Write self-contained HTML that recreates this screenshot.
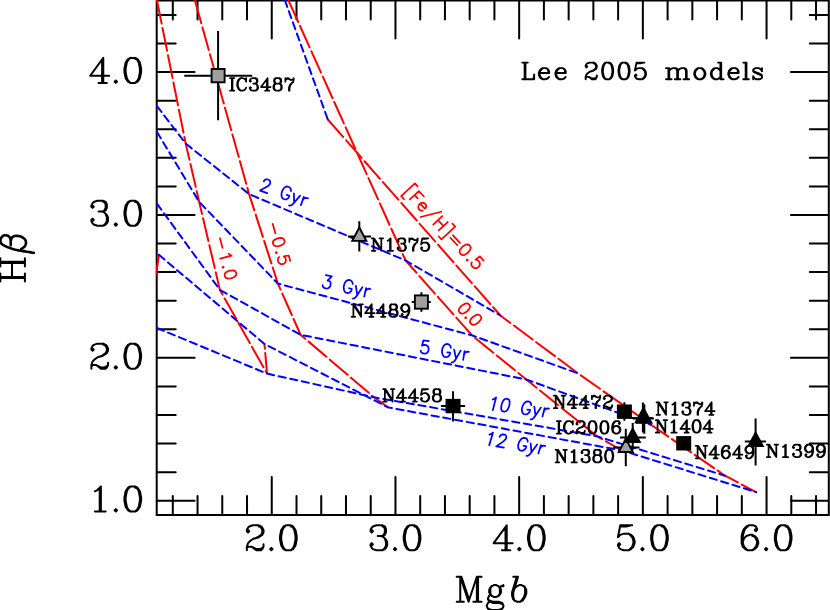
<!DOCTYPE html>
<html><head><meta charset="utf-8"><title>Lee 2005 models</title>
<style>html,body{margin:0;padding:0;background:#fff}svg{display:block}</style></head>
<body>
<svg width="830" height="610" viewBox="0 0 830 610">
<rect width="830" height="610" fill="#fff"/>
<defs><clipPath id="c"><rect x="155.7" y="0" width="674.1" height="515.9"/></clipPath></defs>
<g stroke="#000" stroke-width="2" fill="none" stroke-linecap="round">
<path d="M156.7 0.6H828.8V514.9H156.7ZM172.8 514.9v-19M172.8 0.6v19M197.54 514.9v-19M197.54 0.6v19M222.28 514.9v-19M222.28 0.6v19M247.02 514.9v-19M247.02 0.6v19M271.76 514.9v-37.9M271.76 0.6v37.9M296.5 514.9v-19M296.5 0.6v19M321.24 514.9v-19M321.24 0.6v19M345.98 514.9v-19M345.98 0.6v19M370.72 514.9v-19M370.72 0.6v19M395.46 514.9v-37.9M395.46 0.6v37.9M420.2 514.9v-19M420.2 0.6v19M444.94 514.9v-19M444.94 0.6v19M469.68 514.9v-19M469.68 0.6v19M494.42 514.9v-19M494.42 0.6v19M519.16 514.9v-37.9M519.16 0.6v37.9M543.9 514.9v-19M543.9 0.6v19M568.64 514.9v-19M568.64 0.6v19M593.38 514.9v-19M593.38 0.6v19M618.12 514.9v-19M618.12 0.6v19M642.86 514.9v-37.9M642.86 0.6v37.9M667.6 514.9v-19M667.6 0.6v19M692.34 514.9v-19M692.34 0.6v19M717.08 514.9v-19M717.08 0.6v19M741.82 514.9v-19M741.82 0.6v19M766.56 514.9v-37.9M766.56 0.6v37.9M791.3 514.9v-19M791.3 0.6v19M816.04 514.9v-19M816.04 0.6v19M156.7 500.7h37.9M828.8 500.7h-37.9M156.7 472.13h19M828.8 472.13h-19M156.7 443.55h19M828.8 443.55h-19M156.7 414.98h19M828.8 414.98h-19M156.7 386.4h19M828.8 386.4h-19M156.7 357.83h37.9M828.8 357.83h-37.9M156.7 329.26h19M828.8 329.26h-19M156.7 300.68h19M828.8 300.68h-19M156.7 272.11h19M828.8 272.11h-19M156.7 243.53h19M828.8 243.53h-19M156.7 214.96h37.9M828.8 214.96h-37.9M156.7 186.39h19M828.8 186.39h-19M156.7 157.81h19M828.8 157.81h-19M156.7 129.24h19M828.8 129.24h-19M156.7 100.66h19M828.8 100.66h-19M156.7 72.09h37.9M828.8 72.09h-37.9M156.7 43.52h19M828.8 43.52h-19M156.7 14.94h19M828.8 14.94h-19"/>
</g>
<g clip-path="url(#c)" fill="none" stroke-width="2" stroke-linecap="round">
<g stroke="#f00" stroke-dasharray="23.4 4.4">
<path d="M156.2 274L158.9 254.8"/>
<path d="M156.9 0L185.7 143.6L199.2 201.9L219.9 289.9L267 373.6L264.5 344" stroke-dashoffset="-0.7"/>
<path d="M194.8 0L249.1 194.1L277.9 283.6L300.6 334.8L374 397.3L388.1 407.4" stroke-dashoffset="-0.7"/>
<path d="M288.3 0L405.6 260.5L472 335.4L526.3 379.5L597 436.3L622 450.5" stroke-dashoffset="-0.7"/>
<path d="M327.8 119.5L500.4 315.5L577.9 373.3L651 424.7L725 475.7L756.1 492.1"/>
</g><g stroke="#00f" stroke-dasharray="7.3 4.6">
<path d="M284.8 0L327.8 119.5"/>
<path d="M157 106.1L185.7 143.6L249.1 194.1L405.6 260.5L500.4 315.5"/>
<path d="M157 132L199.2 201.9L277.9 283.6L472 335.4L577.9 373.3"/>
<path d="M157 203.7L219.9 289.9L300.6 334.8L526.3 379.5L651 424.7"/>
<path d="M157 328L267 373.6L374 397.3L597 436.3L725 475.7"/>
<path d="M158.9 254.8L264.5 344L388.1 407.4L622 450.5L756.1 492.1"/>
</g></g>
<g stroke="#000" stroke-width="1.9" stroke-linejoin="miter">
<path d="M184.3 75.65H252.2M218.1 31V120.2" fill="none" stroke-width="2"/>
<rect x="211.6" y="69" width="13" height="13.3" fill="#a0a0a0"/>
<path d="M347.9 236.4H371.1M359.3 221.2V251.4" fill="none" stroke-width="2"/>
<path d="M359.3 227.47L366.35 240.87L352.25 240.87Z" fill="#a0a0a0"/>
<path d="M411.8 302.05H430.8M421.4 292.3V311.8" fill="none" stroke-width="2"/>
<rect x="414.9" y="295.4" width="13" height="13.3" fill="#a0a0a0"/>
<path d="M440.9 406.05H465.1M453.05 391.2V421.4" fill="none" stroke-width="2"/>
<rect x="446.5" y="399.8" width="13.1" height="12.5" fill="#000"/>
<path d="M618 411.7H631M624.4 402.3V420.7" fill="none" stroke-width="2"/>
<rect x="617.85" y="405.45" width="13.1" height="12.5" fill="#000"/>
<path d="M613.2 447.6H639.5M625.8 428.7V466.2" fill="none" stroke-width="2"/>
<path d="M625.8 438.67L632.85 452.07L618.75 452.07Z" fill="#a0a0a0"/>
<path d="M620 437.6H645.8M632.7 423V450" fill="none" stroke-width="2"/>
<path d="M632.7 428.8L639.85 442L625.55 442Z" fill="#000"/>
<path d="M632.1 417.9H653M642.9 402.6V432.5" fill="none" stroke-width="2"/>
<path d="M642.9 409.1L650.05 422.3L635.75 422.3Z" fill="#000"/>
<path d="M633 418.4H653.9M644.3 404.2V433.8" fill="none" stroke-width="2"/>
<path d="M644.3 409.6L651.45 422.8L637.15 422.8Z" fill="#000"/>
<path d="M679 443.3H689M683.7 439V448" fill="none" stroke-width="2"/>
<rect x="677.15" y="437.05" width="13.1" height="12.5" fill="#000"/>
<path d="M744.8 441.6H765.9M755.6 418.4V465.6" fill="none" stroke-width="2"/>
<path d="M755.6 432.8L762.75 446L748.45 446Z" fill="#000"/>
</g>
<g fill="none" stroke-linecap="round" stroke-linejoin="round">
<path d="M100.9 511.5l0-24.99l-1.19 1.19M100.9 511.5l-1.19 0M100.9 511.5l4.76 0M94.95 491.27l2.38-1.19l2.38-2.38M99.71 511.5l0-23.8M99.71 511.5l-4.76 0M115.8 509.12l-1.19 1.19l1.19 1.19l1.19-1.19l-1.19-1.19M135.15 486.51l0 1.19M130.39 511.5l-2.38-1.19l-2.38-3.57l-1.19-5.95l0-3.57l1.19-5.95l2.38-3.57l2.38-1.19M135.15 511.5l2.38-1.19l2.38-3.57l1.19-5.95l0-3.57l-1.19-5.95l-2.38-3.57l-2.38-1.19M130.39 511.5l-1.19-1.19l-1.19-1.19l-1.19-2.38l-1.19-5.95l0-3.57l1.19-5.95l1.19-2.38l1.19-1.19l1.19-1.19M135.15 486.51l0 1.19M130.39 511.5l1.19 0l2.38 0l1.19 0M130.39 486.51l1.19 0l2.38 0l1.19 0M135.15 511.5l1.19-1.19l1.19-1.19l1.19-2.38l1.19-5.95l0-3.57l-1.19-5.95l-1.19-2.38l-1.19-1.19l-1.19 0" stroke="#000" stroke-width="2"/>
<path d="M96.14 365.06l4.76 2.38l3.57 0l2.38-1.19l1.19-1.19M108.04 365.06l-1.19 2.38l-1.19 1.19l-4.76 0l-4.76-3.57M96.14 365.06l-1.19 0M99.71 356.73l3.57-1.19l3.57-2.38l1.19-2.38l0-2.38l-1.19-2.38l-1.19-1.19l-2.38-1.19M92.57 348.4l1.19 1.19l-1.19 1.19l-1.19-1.19l0-1.19l1.19-2.38l1.19-1.19l3.57-1.19l4.76 0l1.19 0M99.71 356.73l2.38-1.19l3.57-2.38l1.19-2.38l0-2.38l-1.19-2.38l-1.19-1.19l-1.19 0M108.04 365.06l0-2.38M94.95 365.06l-2.38 0l-1.19 1.19M94.95 365.06l1.19 0M103.28 344.83l0-1.19M103.28 344.83l0-1.19M91.38 366.25l0-1.19l1.19-3.57l2.38-2.38l3.57-2.38M91.38 366.25l0 2.38M98.52 356.73l1.19 0M98.52 356.73l1.19 0M115.8 366.25l-1.19 1.19l1.19 1.19l1.19-1.19l-1.19-1.19M135.15 343.64l0 1.19M130.39 368.63l-2.38-1.19l-2.38-3.57l-1.19-5.95l0-3.57l1.19-5.95l2.38-3.57l2.38-1.19M135.15 368.63l2.38-1.19l2.38-3.57l1.19-5.95l0-3.57l-1.19-5.95l-2.38-3.57l-2.38-1.19M130.39 368.63l-1.19-1.19l-1.19-1.19l-1.19-2.38l-1.19-5.95l0-3.57l1.19-5.95l1.19-2.38l1.19-1.19l1.19-1.19M135.15 343.64l0 1.19M130.39 368.63l1.19 0l2.38 0l1.19 0M130.39 343.64l1.19 0l2.38 0l1.19 0M135.15 368.63l1.19-1.19l1.19-1.19l1.19-2.38l1.19-5.95l0-3.57l-1.19-5.95l-1.19-2.38l-1.19-1.19l-1.19 0" stroke="#000" stroke-width="2"/>
<path d="M98.52 211.48l3.57 0M92.57 205.53l1.19 1.19l-1.19 1.19l-1.19-1.19l0-1.19l1.19-2.38l1.19-1.19l3.57-1.19l4.76 0l1.19 0M92.57 221l1.19-1.19l-1.19-1.19l-1.19 1.19l0 1.19l1.19 2.38l1.19 1.19l3.57 1.19l4.76 0l1.19 0M103.28 225.76l1.19-1.19l1.19-1.19l1.19-2.38l0-3.57l-1.19-3.57M103.28 201.96l0-1.19M103.28 201.96l0-1.19M103.28 201.96l1.19 0l1.19 2.38l0 3.57l-1.19 2.38l-1.19 1.19M105.66 213.86l-1.19-1.19l-2.38-1.19M105.66 213.86l1.19 1.19l1.19 2.38l0 3.57l-1.19 2.38l-1.19 1.19l-2.38 1.19M102.09 211.48l1.19 0M103.28 211.48l2.38-1.19l1.19-2.38l0-3.57l-1.19-2.38l-2.38-1.19M115.8 223.38l-1.19 1.19l1.19 1.19l1.19-1.19l-1.19-1.19M135.15 200.77l0 1.19M130.39 225.76l-2.38-1.19l-2.38-3.57l-1.19-5.95l0-3.57l1.19-5.95l2.38-3.57l2.38-1.19M135.15 225.76l2.38-1.19l2.38-3.57l1.19-5.95l0-3.57l-1.19-5.95l-2.38-3.57l-2.38-1.19M130.39 225.76l-1.19-1.19l-1.19-1.19l-1.19-2.38l-1.19-5.95l0-3.57l1.19-5.95l1.19-2.38l1.19-1.19l1.19-1.19M135.15 200.77l0 1.19M130.39 225.76l1.19 0l2.38 0l1.19 0M130.39 200.77l1.19 0l2.38 0l1.19 0M135.15 225.76l1.19-1.19l1.19-1.19l1.19-2.38l1.19-5.95l0-3.57l-1.19-5.95l-1.19-2.38l-1.19-1.19l-1.19 0" stroke="#000" stroke-width="2"/>
<path d="M102.09 75.75l0-15.47M102.09 75.75l-11.9 0l13.09-17.85l0 17.85M102.09 75.75l1.19 0M102.09 75.75l0 7.14M98.52 82.89l3.57 0M106.85 82.89l-3.57 0M103.28 75.75l5.95 0M103.28 75.75l0 7.14M102.09 82.89l1.19 0M115.8 80.51l-1.19 1.19l1.19 1.19l1.19-1.19l-1.19-1.19M135.15 57.9l0 1.19M130.39 82.89l-2.38-1.19l-2.38-3.57l-1.19-5.95l0-3.57l1.19-5.95l2.38-3.57l2.38-1.19M135.15 82.89l2.38-1.19l2.38-3.57l1.19-5.95l0-3.57l-1.19-5.95l-2.38-3.57l-2.38-1.19M130.39 82.89l-1.19-1.19l-1.19-1.19l-1.19-2.38l-1.19-5.95l0-3.57l1.19-5.95l1.19-2.38l1.19-1.19l1.19-1.19M135.15 57.9l0 1.19M130.39 82.89l1.19 0l2.38 0l1.19 0M130.39 57.9l1.19 0l2.38 0l1.19 0M135.15 82.89l1.19-1.19l1.19-1.19l1.19-2.38l1.19-5.95l0-3.57l-1.19-5.95l-1.19-2.38l-1.19-1.19l-1.19 0" stroke="#000" stroke-width="2"/>
<path d="M251.59 546.73l4.76 2.38l3.57 0l2.38-1.19l1.19-1.19M263.49 546.73l-1.19 2.38l-1.19 1.19l-4.76 0l-4.76-3.57M251.59 546.73l-1.19 0M255.16 538.4l3.57-1.19l3.57-2.38l1.19-2.38l0-2.38l-1.19-2.38l-1.19-1.19l-2.38-1.19M248.02 530.07l1.19 1.19l-1.19 1.19l-1.19-1.19l0-1.19l1.19-2.38l1.19-1.19l3.57-1.19l4.76 0l1.19 0M255.16 538.4l2.38-1.19l3.57-2.38l1.19-2.38l0-2.38l-1.19-2.38l-1.19-1.19l-1.19 0M263.49 546.73l0-2.38M250.4 546.73l-2.38 0l-1.19 1.19M250.4 546.73l1.19 0M258.73 526.5l0-1.19M258.73 526.5l0-1.19M246.83 547.92l0-1.19l1.19-3.57l2.38-2.38l3.57-2.38M246.83 547.92l0 2.38M253.97 538.4l1.19 0M253.97 538.4l1.19 0M271.34 547.92l-1.19 1.19l1.19 1.19l1.19-1.19l-1.19-1.19M290.74 525.31l0 1.19M285.98 550.3l-2.38-1.19l-2.38-3.57l-1.19-5.95l0-3.57l1.19-5.95l2.38-3.57l2.38-1.19M290.74 550.3l2.38-1.19l2.38-3.57l1.19-5.95l0-3.57l-1.19-5.95l-2.38-3.57l-2.38-1.19M285.98 550.3l-1.19-1.19l-1.19-1.19l-1.19-2.38l-1.19-5.95l0-3.57l1.19-5.95l1.19-2.38l1.19-1.19l1.19-1.19M290.74 525.31l0 1.19M285.98 550.3l1.19 0l2.38 0l1.19 0M285.98 525.31l1.19 0l2.38 0l1.19 0M290.74 550.3l1.19-1.19l1.19-1.19l1.19-2.38l1.19-5.95l0-3.57l-1.19-5.95l-1.19-2.38l-1.19-1.19l-1.19 0" stroke="#000" stroke-width="2"/>
<path d="M377.67 536.02l3.57 0M371.72 530.07l1.19 1.19l-1.19 1.19l-1.19-1.19l0-1.19l1.19-2.38l1.19-1.19l3.57-1.19l4.76 0l1.19 0M371.72 545.54l1.19-1.19l-1.19-1.19l-1.19 1.19l0 1.19l1.19 2.38l1.19 1.19l3.57 1.19l4.76 0l1.19 0M382.43 550.3l1.19-1.19l1.19-1.19l1.19-2.38l0-3.57l-1.19-3.57M382.43 526.5l0-1.19M382.43 526.5l0-1.19M382.43 526.5l1.19 0l1.19 2.38l0 3.57l-1.19 2.38l-1.19 1.19M384.81 538.4l-1.19-1.19l-2.38-1.19M384.81 538.4l1.19 1.19l1.19 2.38l0 3.57l-1.19 2.38l-1.19 1.19l-2.38 1.19M381.24 536.02l1.19 0M382.43 536.02l2.38-1.19l1.19-2.38l0-3.57l-1.19-2.38l-2.38-1.19M395.04 547.92l-1.19 1.19l1.19 1.19l1.19-1.19l-1.19-1.19M414.44 525.31l0 1.19M409.68 550.3l-2.38-1.19l-2.38-3.57l-1.19-5.95l0-3.57l1.19-5.95l2.38-3.57l2.38-1.19M414.44 550.3l2.38-1.19l2.38-3.57l1.19-5.95l0-3.57l-1.19-5.95l-2.38-3.57l-2.38-1.19M409.68 550.3l-1.19-1.19l-1.19-1.19l-1.19-2.38l-1.19-5.95l0-3.57l1.19-5.95l1.19-2.38l1.19-1.19l1.19-1.19M414.44 525.31l0 1.19M409.68 550.3l1.19 0l2.38 0l1.19 0M409.68 525.31l1.19 0l2.38 0l1.19 0M414.44 550.3l1.19-1.19l1.19-1.19l1.19-2.38l1.19-5.95l0-3.57l-1.19-5.95l-1.19-2.38l-1.19-1.19l-1.19 0" stroke="#000" stroke-width="2"/>
<path d="M505.53 543.16l0-15.47M505.53 543.16l-11.9 0l13.09-17.85l0 17.85M505.53 543.16l1.19 0M505.53 543.16l0 7.14M501.96 550.3l3.57 0M510.29 550.3l-3.57 0M506.72 543.16l5.95 0M506.72 543.16l0 7.14M505.53 550.3l1.19 0M519.34 547.92l-1.19 1.19l1.19 1.19l1.19-1.19l-1.19-1.19M538.74 525.31l0 1.19M533.98 550.3l-2.38-1.19l-2.38-3.57l-1.19-5.95l0-3.57l1.19-5.95l2.38-3.57l2.38-1.19M538.74 550.3l2.38-1.19l2.38-3.57l1.19-5.95l0-3.57l-1.19-5.95l-2.38-3.57l-2.38-1.19M533.98 550.3l-1.19-1.19l-1.19-1.19l-1.19-2.38l-1.19-5.95l0-3.57l1.19-5.95l1.19-2.38l1.19-1.19l1.19-1.19M538.74 525.31l0 1.19M533.98 550.3l1.19 0l2.38 0l1.19 0M533.98 525.31l1.19 0l2.38 0l1.19 0M538.74 550.3l1.19-1.19l1.19-1.19l1.19-2.38l1.19-5.95l0-3.57l-1.19-5.95l-1.19-2.38l-1.19-1.19l-1.19 0" stroke="#000" stroke-width="2"/>
<path d="M632.21 525.31l-1.19 0M628.64 550.3l2.38-1.19l2.38-2.38l1.19-3.57l0-2.38l-1.19-3.57l-2.38-2.38l-2.38-1.19M619.12 545.54l1.19-1.19l-1.19-1.19l-1.19 1.19l0 1.19l1.19 2.38l1.19 1.19l3.57 1.19l3.57 0l1.19 0M620.31 526.5l5.95 0l4.76-1.19M631.02 525.31l-10.71 0l-2.38 11.9l2.38-2.38l3.57-1.19l3.57 0l1.19 0M628.64 533.64l1.19 1.19l2.38 2.38l1.19 3.57l0 2.38l-1.19 3.57l-2.38 2.38l-1.19 1.19M642.44 547.92l-1.19 1.19l1.19 1.19l1.19-1.19l-1.19-1.19M661.84 525.31l0 1.19M657.08 550.3l-2.38-1.19l-2.38-3.57l-1.19-5.95l0-3.57l1.19-5.95l2.38-3.57l2.38-1.19M661.84 550.3l2.38-1.19l2.38-3.57l1.19-5.95l0-3.57l-1.19-5.95l-2.38-3.57l-2.38-1.19M657.08 550.3l-1.19-1.19l-1.19-1.19l-1.19-2.38l-1.19-5.95l0-3.57l1.19-5.95l1.19-2.38l1.19-1.19l1.19-1.19M661.84 525.31l0 1.19M657.08 550.3l1.19 0l2.38 0l1.19 0M657.08 525.31l1.19 0l2.38 0l1.19 0M661.84 550.3l1.19-1.19l1.19-1.19l1.19-2.38l1.19-5.95l0-3.57l-1.19-5.95l-1.19-2.38l-1.19-1.19l-1.19 0" stroke="#000" stroke-width="2"/>
<path d="M749.96 525.31l-1.19 0M749.96 525.31l3.57 0l2.38 1.19l1.19 2.38l0 1.19l-1.19 1.19l-1.19-1.19l1.19-1.19M749.96 525.31l-1.19 0M747.58 550.3l-2.38-1.19l-2.38-2.38l-1.19-3.57l0-7.14l1.19-4.76l1.19-2.38l2.38-2.38l2.38-1.19M748.77 525.31l-1.19 1.19l-2.38 2.38l-1.19 2.38l-1.19 4.76l0 5.95M752.34 550.3l2.38-1.19l2.38-2.38l1.19-3.57l0-1.19l-1.19-3.57l-2.38-2.38l-2.38-1.19M752.34 536.02l0-1.19M752.34 536.02l0-1.19M752.34 536.02l1.19 0l2.38 2.38l1.19 3.57l0 1.19l-1.19 3.57l-2.38 2.38l-1.19 1.19M747.58 550.3l1.19 0l2.38 0l1.19 0M742.82 541.97l1.19-3.57l2.38-2.38l3.57-1.19l1.19 0l1.19 0M742.82 541.97l0 1.19l1.19 3.57l2.38 2.38l1.19 1.19M766.14 547.92l-1.19 1.19l1.19 1.19l1.19-1.19l-1.19-1.19M785.54 525.31l0 1.19M780.78 550.3l-2.38-1.19l-2.38-3.57l-1.19-5.95l0-3.57l1.19-5.95l2.38-3.57l2.38-1.19M785.54 550.3l2.38-1.19l2.38-3.57l1.19-5.95l0-3.57l-1.19-5.95l-2.38-3.57l-2.38-1.19M780.78 550.3l-1.19-1.19l-1.19-1.19l-1.19-2.38l-1.19-5.95l0-3.57l1.19-5.95l1.19-2.38l1.19-1.19l1.19-1.19M785.54 525.31l0 1.19M780.78 550.3l1.19 0l2.38 0l1.19 0M780.78 525.31l1.19 0l2.38 0l1.19 0M785.54 550.3l1.19-1.19l1.19-1.19l1.19-2.38l1.19-5.95l0-3.57l-1.19-5.95l-1.19-2.38l-1.19-1.19l-1.19 0" stroke="#000" stroke-width="2"/>
<path d="M524.63 62.6l-2.38 0M524.63 62.6l0.8 0M524.63 62.6l0 16.7M534.17 74.53l0 0.8M533.38 79.3l0.79-3.97M533.38 79.3l-7.95 0M533.38 79.3l0.79 0l0-3.97M522.25 79.3l2.38 0M524.63 79.3l0.8 0M525.43 62.6l2.39 0M525.43 62.6l0 16.7M542.77 79.3l-1.59-0.8l-1.59-1.59l-0.8-2.38l0-1.59l0.8-2.39l1.59-1.58l1.59-0.8M542.77 79.3l-0.8-0.8l-1.59-1.59l-0.79-2.38l0-1.59M547.54 68.97l0.79 0.79l0.8 1.59l0 1.59l-0.8 0M542.77 79.3l0.79 0l1.59 0l2.39-0.8l1.59-1.59M548.33 72.94l0-2.39l-0.79-1.58M548.33 72.94l-8.74 0M542.77 68.17l0.79 0l2.39 0l1.59 0.8M542.77 68.17l-0.8 0.8l-1.59 1.58l-0.79 2.39M559.39 79.3l-1.59-0.8l-1.59-1.59l-0.8-2.38l0-1.59l0.8-2.39l1.59-1.58l1.59-0.8M559.39 79.3l-0.79-0.8l-1.6-1.59l-0.79-2.38l0-1.59M564.16 68.97l0.8 0.79l0.79 1.59l0 1.59l-0.79 0M559.39 79.3l0.79 0l1.59 0l2.39-0.8l1.59-1.59M564.96 72.94l0-2.39l-0.8-1.58M564.96 72.94l-8.75 0M559.39 68.17l0.79 0l2.39 0l1.59 0.8M559.39 68.17l-0.79 0.8l-1.6 1.58l-0.79 2.39" stroke="#000" stroke-width="1.9"/>
<path d="M588.83 76.91l3.18 1.59l2.39 0l1.59-0.79l0.79-0.8M596.78 76.91l-0.79 1.59l-0.8 0.8l-3.18 0l-3.18-2.39M588.83 76.91l-0.79 0M591.22 71.35l2.38-0.8l2.39-1.58l0.79-1.59l0-1.6l-0.79-1.59l-0.8-0.79l-1.59-0.8M586.45 65.78l0.79 0.8l-0.79 0.8l-0.8-0.8l0-0.8l0.8-1.59l0.79-0.79l2.39-0.8l3.18 0l0.79 0M591.22 71.35l1.59-0.8l2.38-1.58l0.8-1.59l0-1.6l-0.8-1.59l-0.79-0.79l-0.8 0M596.78 76.91l0-1.58M588.04 76.91l-1.59 0l-0.8 0.8M588.04 76.91l0.79 0M593.6 63.4l0-0.8M593.6 63.4l0-0.8M585.65 77.71l0-0.8l0.8-2.38l1.59-1.59l2.38-1.59M585.65 77.71l0 1.59M590.42 71.35l0.8 0M590.42 71.35l0.8 0M609.23 62.6l0 0.8M606.05 79.3l-1.59-0.8l-1.59-2.38l-0.8-3.98l0-2.38l0.8-3.98l1.59-2.38l1.59-0.8M609.23 79.3l1.59-0.8l1.59-2.38l0.79-3.98l0-2.38l-0.79-3.98l-1.59-2.38l-1.59-0.8M606.05 79.3l-0.8-0.8l-0.79-0.79l-0.8-1.59l-0.79-3.98l0-2.38l0.79-3.98l0.8-1.59l0.79-0.79l0.8-0.8M609.23 62.6l0 0.8M606.05 79.3l0.79 0l1.59 0l0.8 0M606.05 62.6l0.79 0l1.59 0l0.8 0M609.23 79.3l0.79-0.8l0.8-0.79l0.79-1.59l0.8-3.98l0-2.38l-0.8-3.98l-0.79-1.59l-0.8-0.79l-0.79 0M625.65 62.6l0 0.8M622.47 79.3l-1.59-0.8l-1.59-2.38l-0.79-3.98l0-2.38l0.79-3.98l1.59-2.38l1.59-0.8M625.65 79.3l1.59-0.8l1.59-2.38l0.8-3.98l0-2.38l-0.8-3.98l-1.59-2.38l-1.59-0.8M622.47 79.3l-0.79-0.8l-0.8-0.79l-0.79-1.59l-0.8-3.98l0-2.38l0.8-3.98l0.79-1.59l0.8-0.79l0.79-0.8M625.65 62.6l0 0.8M622.47 79.3l0.8 0l1.59 0l0.79 0M622.47 62.6l0.8 0l1.59 0l0.79 0M625.65 79.3l0.8-0.8l0.79-0.79l0.8-1.59l0.79-3.98l0-2.38l-0.79-3.98l-0.8-1.59l-0.79-0.79l-0.8 0M644.46 62.6l-0.8 0M642.07 79.3l1.59-0.8l1.59-1.59l0.8-2.38l0-1.59l-0.8-2.39l-1.59-1.58l-1.59-0.8M635.71 76.12l0.8-0.79l-0.8-0.8l-0.79 0.8l0 0.79l0.79 1.59l0.8 0.79l2.38 0.8l2.39 0l0.79 0M636.51 63.4l3.97 0l3.18-0.8M643.66 62.6l-7.15 0l-1.59 7.95l1.59-1.58l2.38-0.8l2.39 0l0.79 0M642.07 68.17l0.8 0.8l1.59 1.58l0.79 2.39l0 1.59l-0.79 2.38l-1.59 1.59l-0.8 0.8" stroke="#000" stroke-width="1.9"/>
<path d="M684.34 68.17l-0.8 0l-1.59 0l-2.38 0.8l-1.59 1.58M666.05 79.3l2.39 0M668.44 79.3l0-11.13M668.44 79.3l0.79 0M666.05 68.17l2.39 0M685.93 79.3l0-8.75l-0.8-1.58l-0.79-0.8M685.93 79.3l-2.39 0M685.93 79.3l0.79 0M684.34 68.17l1.59 0.8l0.79 1.58l0 8.75M669.23 79.3l0-8.75M669.23 79.3l2.39 0M686.72 79.3l2.39 0M677.18 79.3l0-8.75l-0.79-1.58l-0.8-0.8M677.18 79.3l-2.38 0M677.18 79.3l0.8 0M677.98 79.3l0-8.75M677.98 79.3l2.38 0M668.44 68.17l0.79 0l0 2.38M677.98 70.55l-0.8-1.58l-1.59-0.8M669.23 70.55l1.59-1.58l2.39-0.8l1.59 0l0.79 0M698.22 79.3l-1.59-0.8l-1.59-1.59l-0.79-2.38l0-1.59l0.79-2.39l1.59-1.58l1.59-0.8M701.4 79.3l1.59-0.8l1.59-1.59l0.8-2.38l0-1.59l-0.8-2.39l-1.59-1.58l-1.59-0.8M701.4 68.17l-0.79 0l-1.59 0l-0.8 0M698.22 79.3l-0.79-0.8l-1.59-1.59l-0.8-2.38l0-1.59l0.8-2.39l1.59-1.58l0.79-0.8M698.22 79.3l0.8 0l1.59 0l0.79 0M701.4 68.17l0.8 0.8l1.59 1.58l0.79 2.39l0 1.59l-0.79 2.38l-1.59 1.59l-0.8 0.8M718.01 62.6l2.39 0M720.4 62.6l0.79 0l0 16.7M720.4 62.6l0 7.95M714.83 79.3l-1.59-0.8l-1.59-1.59l-0.79-2.38l0-1.59l0.79-2.39l1.59-1.58l1.59-0.8M721.19 79.3l-0.79 0l0-2.39M721.19 79.3l2.39 0M714.83 79.3l-0.79-0.8l-1.59-1.59l-0.8-2.38l0-1.59l0.8-2.39l1.59-1.58l0.79-0.8M714.83 79.3l0.8 0l1.59 0l1.59-0.8l1.59-1.59M714.83 68.17l0.8 0l1.59 0l1.59 0.8l1.59 1.58M720.4 70.55l0 6.36M732.27 79.3l-1.59-0.8l-1.59-1.59l-0.8-2.38l0-1.59l0.8-2.39l1.59-1.58l1.59-0.8M732.27 79.3l-0.8-0.8l-1.59-1.59l-0.79-2.38l0-1.59M737.04 68.97l0.79 0.79l0.8 1.59l0 1.59l-0.8 0M732.27 79.3l0.79 0l1.59 0l2.39-0.8l1.59-1.59M737.83 72.94l0-2.39l-0.79-1.58M737.83 72.94l-8.74 0M732.27 68.17l0.79 0l2.39 0l1.59 0.8M732.27 68.17l-0.8 0.8l-1.59 1.58l-0.79 2.39M745.66 62.6l-2.38 0M745.66 62.6l0.8 0l0 16.7M745.66 62.6l0 16.7M748.84 79.3l-2.38 0M743.28 79.3l2.38 0M745.66 79.3l0.8 0M761.95 76.12l0-0.79l-0.8-0.8l-1.59-0.8l-3.97-1.59l-1.59-0.79l-0.8-0.8M761.95 76.12l-0.8-0.79l-1.59-0.8l-3.97-1.59l-1.59-0.8l-0.8-0.79l0-0.8M761.95 76.12l0 1.59l-0.8 0.79l-1.59 0.8l-3.18 0l-1.59-0.8l-0.79-0.79M754 77.71l-0.8-1.59l0 3.18l0.8-1.59M753.2 70.55l0-0.79l0.8-0.79l1.59-0.8l3.18 0l1.59 0.8l0.79 0.79M761.15 69.76l0.8-1.59l0 3.18l-0.8-1.59" stroke="#000" stroke-width="1.9"/>
<path d="M231.88 78.15l-1.78 0M231.88 78.15l0.6 0M231.88 78.15l0 12.5M234.26 90.65l-1.78 0M230.1 90.65l1.78 0M231.88 90.65l0.6 0M232.48 78.15l1.78 0M232.48 78.15l0 12.5M241.4 78.15l-0.6 0M241.4 78.15l1.19 0l1.78 0.6l1.19 1.19M241.4 78.15l-0.6 0M240.8 90.65l0.6 0M240.8 78.15l-0.59 0.6l-1.19 1.19l-0.6 1.19l-0.59 1.78l0 2.98l0.59 1.78l0.6 1.19l1.19 1.19l0.59 0.6M245.56 79.94l0.6-1.79l0 3.57l-0.6-1.78M240.8 90.65l-1.19-0.6l-1.19-1.19l-0.59-1.19l-0.6-1.78l0-2.98l0.6-1.78l0.59-1.19l1.19-1.19l1.19-0.6M240.8 90.65l0.6 0M246.16 87.67l-0.6 1.19l-1.19 1.19l-1.78 0.6l-1.19 0M253.28 83.51l1.79 0M250.31 80.53l0.59 0.6l-0.59 0.59l-0.6-0.59l0-0.6l0.6-1.19l0.59-0.59l1.79-0.6l2.38 0l0.59 0M250.31 88.27l0.59-0.6l-0.59-0.59l-0.6 0.59l0 0.6l0.6 1.19l0.59 0.59l1.79 0.6l2.38 0l0.59 0M255.66 90.65l0.6-0.6l0.59-0.59l0.6-1.19l0-1.79l-0.6-1.78M255.66 78.75l0-0.6M255.66 78.75l0-0.6M255.66 78.75l0.6 0l0.59 1.19l0 1.78l-0.59 1.19l-0.6 0.6M256.85 84.7l-0.59-0.6l-1.19-0.59M256.85 84.7l0.6 0.59l0.59 1.19l0 1.79l-0.59 1.19l-0.6 0.59l-1.19 0.6M255.07 83.51l0.59 0M255.66 83.51l1.19-0.6l0.6-1.19l0-1.78l-0.6-1.19l-1.19-0.6M266.95 87.08l0-7.74M266.95 87.08l-5.95 0l6.55-8.93l0 8.93M266.95 87.08l0.6 0M266.95 87.08l0 3.57M265.17 90.65l1.78 0M269.33 90.65l-1.78 0M267.55 87.08l2.97 0M267.55 87.08l0 3.57M266.95 90.65l0.6 0M275.86 83.51l0.6 0M279.43 78.75l0-0.6M279.43 78.75l0-0.6M279.43 78.75l0.6 0l0.59 1.19l0 1.78l-0.59 1.19l-0.6 0.6M279.43 83.51l1.19-0.6l0.6-1.19l0-1.78l-0.6-1.19l-1.19-0.6M275.86 83.51l-0.59 0.59l-0.6 0.6l-0.59 1.19l0 2.38l0.59 1.19l0.6 0.59l0.59 0.6M275.86 78.15l0.6 0M276.46 83.51l2.38 0M276.46 78.15l2.38 0l0.59 0M276.46 78.15l-0.6 0M275.86 90.65l0.6 0M279.43 90.65l-0.59 0l-2.38 0M276.46 90.65l-0.6 0M279.43 83.51l-0.59 0M275.86 83.51l-1.19 0.59l-0.59 0.6l-0.6 1.19l0 2.38l0.6 1.19l0.59 0.59l1.19 0.6M276.46 83.51l-0.6 0M276.46 83.51l-0.6 0M275.86 78.15l-1.19 0.6l-0.59 1.19l0 1.78l0.59 1.19l1.19 0.6M279.43 90.65l0.6-0.6l0.59-0.59l0.6-1.19l0-2.38l-0.6-1.19l-0.59-0.6l-0.6-0.59M279.43 83.51l1.19 0.59l0.6 0.6l0.59 1.19l0 2.38l-0.59 1.19l-0.6 0.59l-1.19 0.6M275.86 83.51l0.6 0M279.43 83.51l-0.59 0M275.86 83.51l-0.59-0.6l-0.6-1.19l0-1.78l0.6-1.19l0.59-0.6M293.11 82.32l0-0.6l0.59-1.78l0-1.79l-0.59 1.19l-0.6 0.6l-1.19 0M293.11 82.32l-0.6 0M293.11 82.32l-0.6 0M285.37 80.53l0-2.38M285.37 80.53l0.6-1.19M285.37 80.53l0 1.19M291.32 79.94l-0.59 0M291.32 79.94l-0.59 0M288.94 90.65l0-2.98l0.6-1.78l0.59-1.19l2.38-2.38M292.51 82.32l-1.78 2.38l-0.6 1.19l-0.59 1.78l0 2.98M290.73 79.94l-2.38-1.79l-1.19 0l-1.19 1.19M285.97 79.34l1.19-0.59l1.19 0l2.38 1.19" stroke="#000" stroke-width="1.75"/>
<path d="M373.58 238.36l-1.78 0M373.58 238.36l0.6 0l7.14 11.3M373.58 238.36l0 12.49M379.53 238.36l1.79 0M381.32 249.66l0-11.3M381.32 249.66l0 1.19l-7.14-11.3M371.8 250.85l1.78 0M373.58 250.85l1.79 0M381.32 238.36l1.78 0M390.64 250.85l0-12.49l-0.59 0.59M390.64 250.85l-0.59 0M390.64 250.85l2.38 0M387.67 240.74l1.19-0.6l1.19-1.19M390.05 250.85l0-11.9M390.05 250.85l-2.38 0M401.18 243.71l1.79 0M398.21 240.74l0.59 0.59l-0.59 0.6l-0.6-0.6l0-0.59l0.6-1.19l0.59-0.6l1.79-0.59l2.38 0l0.59 0M398.21 248.47l0.59-0.59l-0.59-0.6l-0.6 0.6l0 0.59l0.6 1.19l0.59 0.6l1.79 0.59l2.38 0l0.59 0M403.56 250.85l0.6-0.59l0.59-0.6l0.6-1.19l0-1.78l-0.6-1.79M403.56 238.95l0-0.59M403.56 238.95l0-0.59M403.56 238.95l0.6 0l0.59 1.19l0 1.79l-0.59 1.19l-0.6 0.59M404.75 244.9l-0.59-0.59l-1.19-0.6M404.75 244.9l0.6 0.6l0.59 1.19l0 1.78l-0.59 1.19l-0.6 0.6l-1.19 0.59M402.97 243.71l0.59 0M403.56 243.71l1.19-0.59l0.6-1.19l0-1.79l-0.6-1.19l-1.19-0.59M417.08 242.52l0-0.59l0.59-1.79l0-1.78l-0.59 1.19l-0.6 0.59l-1.19 0M417.08 242.52l-0.6 0M417.08 242.52l-0.6 0M409.34 240.74l0-2.38M409.34 240.74l0.6-1.19M409.34 240.74l0 1.19M415.29 240.14l-0.59 0M415.29 240.14l-0.59 0M412.91 250.85l0-2.97l0.6-1.79l0.59-1.19l2.38-2.38M416.48 242.52l-1.78 2.38l-0.6 1.19l-0.59 1.79l0 2.97M414.7 240.14l-2.38-1.78l-1.19 0l-1.19 1.19M409.94 239.55l1.19-0.6l1.19 0l2.38 1.19M428.21 238.36l-0.59 0M426.43 250.85l1.19-0.59l1.19-1.19l0.59-1.79l0-1.19l-0.59-1.78l-1.19-1.19l-1.19-0.6M421.67 248.47l0.59-0.59l-0.59-0.6l-0.6 0.6l0 0.59l0.6 1.19l0.59 0.6l1.79 0.59l1.78 0l0.6 0M422.26 238.95l2.98 0l2.38-0.59M427.62 238.36l-5.36 0l-1.19 5.95l1.19-1.19l1.79-0.6l1.78 0l0.6 0M426.43 242.52l0.59 0.6l1.19 1.19l0.6 1.78l0 1.19l-0.6 1.79l-1.19 1.19l-0.59 0.59" stroke="#000" stroke-width="1.75"/>
<path d="M353.38 304.25l-1.78 0M353.38 304.25l0.6 0l7.14 11.31M353.38 304.25l0 12.5M359.33 304.25l1.79 0M361.12 315.56l0-11.31M361.12 315.56l0 1.19l-7.14-11.31M351.6 316.75l1.78 0M353.38 316.75l1.79 0M361.12 304.25l1.78 0M371.09 313.18l0-7.74M371.09 313.18l-5.95 0l6.55-8.93l0 8.93M371.09 313.18l0.6 0M371.09 313.18l0 3.57M369.31 316.75l1.78 0M373.47 316.75l-1.78 0M371.69 313.18l2.97 0M371.69 313.18l0 3.57M371.09 316.75l0.6 0M382.87 313.18l0-7.74M382.87 313.18l-5.95 0l6.55-8.93l0 8.93M382.87 313.18l0.6 0M382.87 313.18l0 3.57M381.09 316.75l1.78 0M385.25 316.75l-1.78 0M383.47 313.18l2.97 0M383.47 313.18l0 3.57M382.87 316.75l0.6 0M391.67 309.61l0.6 0M395.24 304.85l0-0.6M395.24 304.85l0-0.6M395.24 304.85l0.6 0l0.59 1.19l0 1.78l-0.59 1.19l-0.6 0.6M395.24 309.61l1.19-0.6l0.6-1.19l0-1.78l-0.6-1.19l-1.19-0.6M391.67 309.61l-0.59 0.59l-0.6 0.6l-0.59 1.19l0 2.38l0.59 1.19l0.6 0.59l0.59 0.6M391.67 304.25l0.6 0M392.27 309.61l2.38 0M392.27 304.25l2.38 0l0.59 0M392.27 304.25l-0.6 0M391.67 316.75l0.6 0M395.24 316.75l-0.59 0l-2.38 0M392.27 316.75l-0.6 0M395.24 309.61l-0.59 0M391.67 309.61l-1.19 0.59l-0.59 0.6l-0.6 1.19l0 2.38l0.6 1.19l0.59 0.59l1.19 0.6M392.27 309.61l-0.6 0M392.27 309.61l-0.6 0M391.67 304.25l-1.19 0.6l-0.59 1.19l0 1.78l0.59 1.19l1.19 0.6M395.24 316.75l0.6-0.6l0.59-0.59l0.6-1.19l0-2.38l-0.6-1.19l-0.59-0.6l-0.6-0.59M395.24 309.61l1.19 0.59l0.6 0.6l0.59 1.19l0 2.38l-0.59 1.19l-0.6 0.59l-1.19 0.6M391.67 309.61l0.6 0M395.24 309.61l-0.59 0M391.67 309.61l-0.59-0.6l-0.6-1.19l0-1.78l0.6-1.19l0.59-0.6M408.81 308.42l0-0.6l-0.6-1.78l-1.19-1.19l-0.59 0M408.81 308.42l-0.6 1.78l-1.19 1.19l-1.78 0.6l-1.19 0M408.81 308.42l0 2.97l-0.6 2.38l-0.59 1.19l-1.19 1.19l-0.6 0.6M406.43 304.25l0 0.6M404.05 311.99l-0.6-0.6l-1.19-1.19l-0.59-1.78l0-0.6l0.59-1.78l1.19-1.19l0.6-0.6M402.26 314.96l0.6-0.59l-0.6-0.6l-0.59 0.6l0 0.59l0.59 1.19l1.19 0.6l1.79 0l0.59 0M404.05 304.25l-1.19 0.6l-1.19 1.19l-0.6 1.78l0 0.6l0.6 1.78l1.19 1.19l1.19 0.6M406.43 304.25l1.19 0.6l1.19 1.19l0.59 1.78l0 3.57l-0.59 2.38l-0.6 1.19l-1.19 1.19l-1.19 0.6M406.43 304.25l0 0.6M404.05 304.25l0.59 0l1.19 0l0.6 0" stroke="#000" stroke-width="1.75"/>
<path d="M384.88 389.06l-1.78 0M384.88 389.06l0.6 0l7.14 11.3M384.88 389.06l0 12.49M390.83 389.06l1.79 0M392.62 400.36l0-11.3M392.62 400.36l0 1.19l-7.14-11.3M383.1 401.55l1.78 0M384.88 401.55l1.79 0M392.62 389.06l1.78 0M402.65 397.98l0-7.73M402.65 397.98l-5.95 0l6.54-8.92l0 8.92M402.65 397.98l0.59 0M402.65 397.98l0 3.57M400.86 401.55l1.79 0M405.03 401.55l-1.79 0M403.24 397.98l2.98 0M403.24 397.98l0 3.57M402.65 401.55l0.59 0M414.47 397.98l0-7.73M414.47 397.98l-5.95 0l6.55-8.92l0 8.92M414.47 397.98l0.6 0M414.47 397.98l0 3.57M412.69 401.55l1.78 0M416.85 401.55l-1.78 0M415.07 397.98l2.97 0M415.07 397.98l0 3.57M414.47 401.55l0.6 0M428.08 389.06l-0.59 0M426.3 401.55l1.19-0.6l1.19-1.19l0.59-1.78l0-1.19l-0.59-1.79l-1.19-1.19l-1.19-0.59M421.54 399.17l0.59-0.6l-0.59-0.59l-0.6 0.59l0 0.6l0.6 1.19l0.59 0.59l1.79 0.6l1.78 0l0.6 0M422.13 389.65l2.98 0l2.38-0.59M427.49 389.06l-5.36 0l-1.19 5.94l1.19-1.19l1.79-0.59l1.78 0l0.6 0M426.3 393.22l0.59 0.59l1.19 1.19l0.6 1.79l0 1.19l-0.6 1.78l-1.19 1.19l-0.59 0.6M435.15 394.41l0.6 0M438.72 389.65l0-0.59M438.72 389.65l0-0.59M438.72 389.65l0.59 0l0.6 1.19l0 1.78l-0.6 1.19l-0.59 0.6M438.72 394.41l1.19-0.6l0.59-1.19l0-1.78l-0.59-1.19l-1.19-0.59M435.15 394.41l-0.59 0.59l-0.6 0.6l-0.59 1.19l0 2.38l0.59 1.19l0.6 0.59l0.59 0.6M435.15 389.06l0.6 0M435.75 394.41l2.37 0M435.75 389.06l2.37 0l0.6 0M435.75 389.06l-0.6 0M435.15 401.55l0.6 0M438.72 401.55l-0.6 0l-2.37 0M435.75 401.55l-0.6 0M438.72 394.41l-0.6 0M435.15 394.41l-1.19 0.59l-0.59 0.6l-0.6 1.19l0 2.38l0.6 1.19l0.59 0.59l1.19 0.6M435.75 394.41l-0.6 0M435.75 394.41l-0.6 0M435.15 389.06l-1.19 0.59l-0.59 1.19l0 1.78l0.59 1.19l1.19 0.6M438.72 401.55l0.59-0.6l0.6-0.59l0.59-1.19l0-2.38l-0.59-1.19l-0.6-0.6l-0.59-0.59M438.72 394.41l1.19 0.59l0.59 0.6l0.6 1.19l0 2.38l-0.6 1.19l-0.59 0.59l-1.19 0.6M435.15 394.41l0.6 0M438.72 394.41l-0.6 0M435.15 394.41l-0.59-0.6l-0.6-1.19l0-1.78l0.6-1.19l0.59-0.59" stroke="#000" stroke-width="1.75"/>
<path d="M555.68 395.66l-1.78 0M555.68 395.66l0.6 0l7.14 11.3M555.68 395.66l0 12.49M561.63 395.66l1.79 0M563.42 406.96l0-11.3M563.42 406.96l0 1.19l-7.14-11.3M553.9 408.15l1.78 0M555.68 408.15l1.79 0M563.42 395.66l1.78 0M573.5 404.58l0-7.73M573.5 404.58l-5.95 0l6.55-8.92l0 8.92M573.5 404.58l0.6 0M573.5 404.58l0 3.57M571.72 408.15l1.78 0M575.88 408.15l-1.78 0M574.1 404.58l2.97 0M574.1 404.58l0 3.57M573.5 408.15l0.6 0M585.38 404.58l0-7.73M585.38 404.58l-5.95 0l6.54-8.92l0 8.92M585.38 404.58l0.59 0M585.38 404.58l0 3.57M583.59 408.15l1.79 0M587.76 408.15l-1.79 0M585.97 404.58l2.98 0M585.97 404.58l0 3.57M585.38 408.15l0.59 0M599.63 399.82l0-0.59l0.6-1.79l0-1.78l-0.6 1.19l-0.59 0.59l-1.19 0M599.63 399.82l-0.59 0M599.63 399.82l-0.59 0M591.9 398.04l0-2.38M591.9 398.04l0.59-1.19M591.9 398.04l0 1.19M597.85 397.44l-0.6 0M597.85 397.44l-0.6 0M595.47 408.15l0-2.97l0.59-1.79l0.6-1.19l2.38-2.38M599.04 399.82l-1.79 2.38l-0.59 1.19l-0.6 1.79l0 2.97M597.25 397.44l-2.38-1.78l-1.19 0l-1.19 1.19M592.49 396.85l1.19-0.6l1.19 0l2.38 1.19M606.15 406.37l2.38 1.19l1.79 0l1.18-0.6l0.6-0.59M612.1 406.37l-0.6 1.19l-0.59 0.59l-2.38 0l-2.38-1.78M606.15 406.37l-0.59 0M607.94 402.2l1.78-0.59l1.78-1.19l0.6-1.19l0-1.19l-0.6-1.19l-0.59-0.6l-1.19-0.59M604.37 398.04l0.59 0.59l-0.59 0.6l-0.6-0.6l0-0.59l0.6-1.19l0.59-0.6l1.79-0.59l2.37 0l0.6 0M607.94 402.2l1.18-0.59l1.79-1.19l0.59-1.19l0-1.19l-0.59-1.19l-0.59-0.6l-0.6 0M612.1 406.37l0-1.19M605.56 406.37l-1.19 0l-0.6 0.59M605.56 406.37l0.59 0M609.72 396.25l0-0.59M609.72 396.25l0-0.59M603.77 406.96l0-0.59l0.6-1.79l1.19-1.19l1.78-1.19M603.77 406.96l0 1.19M607.34 402.2l0.6 0M607.34 402.2l0.6 0" stroke="#000" stroke-width="1.75"/>
<path d="M558.58 421.06l-1.78 0M558.58 421.06l0.6 0M558.58 421.06l0 12.49M560.96 433.55l-1.78 0M556.8 433.55l1.78 0M558.58 433.55l0.6 0M559.18 421.06l1.78 0M559.18 421.06l0 12.49M568.11 421.06l-0.6 0M568.11 421.06l1.19 0l1.78 0.59l1.19 1.19M568.11 421.06l-0.6 0M567.51 433.55l0.6 0M567.51 421.06l-0.59 0.59l-1.19 1.19l-0.6 1.19l-0.59 1.78l0 2.98l0.59 1.78l0.6 1.19l1.19 1.19l0.59 0.6M572.27 422.84l0.6-1.78l0 3.56l-0.6-1.78M567.51 433.55l-1.19-0.6l-1.19-1.19l-0.59-1.19l-0.6-1.78l0-2.98l0.6-1.78l0.59-1.19l1.19-1.19l1.19-0.59M567.51 433.55l0.6 0M572.87 430.57l-0.6 1.19l-1.19 1.19l-1.78 0.6l-1.19 0M578.83 431.76l2.38 1.19l1.78 0l1.19-0.59l0.6-0.6M584.78 431.76l-0.6 1.19l-0.59 0.6l-2.38 0l-2.38-1.79M578.83 431.76l-0.6 0M580.61 427.6l1.79-0.6l1.78-1.19l0.6-1.19l0-1.18l-0.6-1.19l-0.59-0.6l-1.19-0.59M577.04 423.44l0.6 0.59l-0.6 0.59l-0.59-0.59l0-0.59l0.59-1.19l0.6-0.6l1.78-0.59l2.38 0l0.6 0M580.61 427.6l1.19-0.6l1.79-1.19l0.59-1.19l0-1.18l-0.59-1.19l-0.6-0.6l-0.59 0M584.78 431.76l0-1.19M578.23 431.76l-1.19 0l-0.59 0.6M578.23 431.76l0.6 0M582.4 421.65l0-0.59M582.4 421.65l0-0.59M576.45 432.36l0-0.6l0.59-1.78l1.19-1.19l1.79-1.19M576.45 432.36l0 1.19M580.02 427.6l0.59 0M580.02 427.6l0.59 0M593.71 421.06l0 0.59M591.33 433.55l-1.19-0.6l-1.19-1.78l-0.6-2.98l0-1.78l0.6-2.97l1.19-1.79l1.19-0.59M593.71 433.55l1.19-0.6l1.19-1.78l0.59-2.98l0-1.78l-0.59-2.97l-1.19-1.79l-1.19-0.59M591.33 433.55l-0.6-0.6l-0.59-0.59l-0.6-1.19l-0.59-2.98l0-1.78l0.59-2.97l0.6-1.19l0.59-0.6l0.6-0.59M593.71 421.06l0 0.59M591.33 433.55l0.59 0l1.19 0l0.6 0M591.33 421.06l0.59 0l1.19 0l0.6 0M593.71 433.55l0.59-0.6l0.6-0.59l0.59-1.19l0.6-2.98l0-1.78l-0.6-2.97l-0.59-1.19l-0.6-0.6l-0.59 0M605.62 421.06l0 0.59M603.24 433.55l-1.19-0.6l-1.19-1.78l-0.6-2.98l0-1.78l0.6-2.97l1.19-1.79l1.19-0.59M605.62 433.55l1.19-0.6l1.19-1.78l0.59-2.98l0-1.78l-0.59-2.97l-1.19-1.79l-1.19-0.59M603.24 433.55l-0.6-0.6l-0.59-0.59l-0.6-1.19l-0.59-2.98l0-1.78l0.59-2.97l0.6-1.19l0.59-0.6l0.6-0.59M605.62 421.06l0 0.59M603.24 433.55l0.59 0l1.19 0l0.6 0M603.24 421.06l0.59 0l1.19 0l0.6 0M605.62 433.55l0.59-0.6l0.6-0.59l0.59-1.19l0.6-2.98l0-1.78l-0.6-2.97l-0.59-1.19l-0.6-0.6l-0.59 0M616.34 421.06l-0.6 0M616.34 421.06l1.78 0l1.19 0.59l0.59 1.19l0 0.6l-0.59 0.59l-0.59-0.59l0.59-0.6M616.34 421.06l-0.6 0M615.14 433.55l-1.18-0.6l-1.2-1.19l-0.59-1.78l0-3.57l0.59-2.38l0.6-1.19l1.19-1.19l1.19-0.59M615.74 421.06l-0.6 0.59l-1.18 1.19l-0.6 1.19l-0.6 2.38l0 2.97M617.52 433.55l1.2-0.6l1.18-1.19l0.6-1.78l0-0.6l-0.6-1.78l-1.18-1.19l-1.2-0.6M617.52 426.41l0-0.6M617.52 426.41l0-0.6M617.52 426.41l0.6 0l1.19 1.19l0.59 1.78l0 0.6l-0.59 1.78l-1.19 1.19l-0.6 0.6M615.14 433.55l0.6 0l1.19 0l0.59 0M612.76 429.38l0.6-1.78l1.19-1.19l1.79-0.6l0.59 0l0.59 0M612.76 429.38l0 0.6l0.6 1.78l1.19 1.19l0.59 0.6" stroke="#000" stroke-width="1.75"/>
<path d="M557.38 449.75l-1.78 0M557.38 449.75l0.6 0l7.14 11.31M557.38 449.75l0 12.5M563.34 449.75l1.78 0M565.12 461.06l0-11.31M565.12 461.06l0 1.19l-7.14-11.31M555.6 462.25l1.78 0M557.38 462.25l1.79 0M565.12 449.75l1.78 0M574.47 462.25l0-12.5l-0.59 0.6M574.47 462.25l-0.59 0M574.47 462.25l2.38 0M571.5 452.13l1.19-0.59l1.19-1.19M573.88 462.25l0-11.9M573.88 462.25l-2.38 0M585.03 455.11l1.79 0M582.06 452.13l0.59 0.6l-0.59 0.59l-0.6-0.59l0-0.6l0.6-1.19l0.59-0.59l1.79-0.6l2.38 0l0.59 0M582.06 459.87l0.59-0.6l-0.59-0.59l-0.6 0.59l0 0.6l0.6 1.19l0.59 0.59l1.79 0.6l2.38 0l0.59 0M587.41 462.25l0.6-0.6l0.59-0.59l0.6-1.19l0-1.79l-0.6-1.78M587.41 450.35l0-0.6M587.41 450.35l0-0.6M587.41 450.35l0.6 0l0.59 1.19l0 1.78l-0.59 1.19l-0.6 0.6M588.6 456.3l-0.59-0.6l-1.19-0.59M588.6 456.3l0.6 0.59l0.59 1.19l0 1.79l-0.59 1.19l-0.6 0.59l-1.19 0.6M586.82 455.11l0.59 0M587.41 455.11l1.19-0.6l0.6-1.19l0-1.78l-0.6-1.19l-1.19-0.6M595.6 455.11l0.59 0M599.17 450.35l0-0.6M599.17 450.35l0-0.6M599.17 450.35l0.59 0l0.6 1.19l0 1.78l-0.6 1.19l-0.59 0.6M599.17 455.11l1.19-0.6l0.59-1.19l0-1.78l-0.59-1.19l-1.19-0.6M595.6 455.11l-0.6 0.59l-0.59 0.6l-0.6 1.19l0 2.38l0.6 1.19l0.59 0.59l0.6 0.6M595.6 449.75l0.59 0M596.19 455.11l2.38 0M596.19 449.75l2.38 0l0.6 0M596.19 449.75l-0.59 0M595.6 462.25l0.59 0M599.17 462.25l-0.6 0l-2.38 0M596.19 462.25l-0.59 0M599.17 455.11l-0.6 0M595.6 455.11l-1.19 0.59l-0.6 0.6l-0.59 1.19l0 2.38l0.59 1.19l0.6 0.59l1.19 0.6M596.19 455.11l-0.59 0M596.19 455.11l-0.59 0M595.6 449.75l-1.19 0.6l-0.6 1.19l0 1.78l0.6 1.19l1.19 0.6M599.17 462.25l0.59-0.6l0.6-0.59l0.59-1.19l0-2.38l-0.59-1.19l-0.6-0.6l-0.59-0.59M599.17 455.11l1.19 0.59l0.59 0.6l0.6 1.19l0 2.38l-0.6 1.19l-0.59 0.59l-1.19 0.6M595.6 455.11l0.59 0M599.17 455.11l-0.6 0M595.6 455.11l-0.6-0.6l-0.59-1.19l0-1.78l0.59-1.19l0.6-0.6M610.33 449.75l0 0.6M607.95 462.25l-1.19-0.6l-1.19-1.78l-0.6-2.98l0-1.78l0.6-2.98l1.19-1.78l1.19-0.6M610.33 462.25l1.19-0.6l1.19-1.78l0.59-2.98l0-1.78l-0.59-2.98l-1.19-1.78l-1.19-0.6M607.95 462.25l-0.6-0.6l-0.59-0.59l-0.6-1.19l-0.59-2.98l0-1.78l0.59-2.98l0.6-1.19l0.59-0.59l0.6-0.6M610.33 449.75l0 0.6M607.95 462.25l0.59 0l1.19 0l0.6 0M607.95 449.75l0.59 0l1.19 0l0.6 0M610.33 462.25l0.59-0.6l0.6-0.59l0.59-1.19l0.6-2.98l0-1.78l-0.6-2.98l-0.59-1.19l-0.6-0.59l-0.59 0" stroke="#000" stroke-width="1.75"/>
<path d="M658.28 402.25l-1.78 0M658.28 402.25l0.6 0l7.14 11.31M658.28 402.25l0 12.5M664.24 402.25l1.78 0M666.02 413.56l0-11.31M666.02 413.56l0 1.19l-7.14-11.31M656.5 414.75l1.78 0M658.28 414.75l1.79 0M666.02 402.25l1.78 0M675.32 414.75l0-12.5l-0.6 0.6M675.32 414.75l-0.6 0M675.32 414.75l2.38 0M672.34 404.63l1.19-0.59l1.19-1.19M674.72 414.75l0-11.9M674.72 414.75l-2.38 0M685.83 407.61l1.79 0M682.86 404.63l0.59 0.6l-0.59 0.59l-0.6-0.59l0-0.6l0.6-1.19l0.59-0.59l1.79-0.6l2.38 0l0.59 0M682.86 412.37l0.59-0.6l-0.59-0.59l-0.6 0.59l0 0.6l0.6 1.19l0.59 0.59l1.79 0.6l2.38 0l0.59 0M688.21 414.75l0.6-0.6l0.59-0.59l0.6-1.19l0-1.79l-0.6-1.78M688.21 402.85l0-0.6M688.21 402.85l0-0.6M688.21 402.85l0.6 0l0.59 1.19l0 1.78l-0.59 1.19l-0.6 0.6M689.4 408.8l-0.59-0.6l-1.19-0.59M689.4 408.8l0.6 0.59l0.59 1.19l0 1.79l-0.59 1.19l-0.6 0.59l-1.19 0.6M687.62 407.61l0.59 0M688.21 407.61l1.19-0.6l0.6-1.19l0-1.78l-0.6-1.19l-1.19-0.6M701.7 406.42l0-0.6l0.6-1.78l0-1.79l-0.6 1.19l-0.59 0.6l-1.19 0M701.7 406.42l-0.59 0M701.7 406.42l-0.59 0M693.97 404.63l0-2.38M693.97 404.63l0.59-1.19M693.97 404.63l0 1.19M699.92 404.04l-0.6 0M699.92 404.04l-0.6 0M697.54 414.75l0-2.98l0.59-1.78l0.6-1.19l2.38-2.38M701.11 406.42l-1.79 2.38l-0.59 1.19l-0.6 1.78l0 2.98M699.32 404.04l-2.38-1.79l-1.19 0l-1.19 1.19M694.56 403.44l1.19-0.59l1.19 0l2.38 1.19M711.03 411.18l0-7.74M711.03 411.18l-5.95 0l6.54-8.93l0 8.93M711.03 411.18l0.59 0M711.03 411.18l0 3.57M709.25 414.75l1.78 0M713.41 414.75l-1.79 0M711.62 411.18l2.98 0M711.62 411.18l0 3.57M711.03 414.75l0.59 0" stroke="#000" stroke-width="1.75"/>
<path d="M657.58 420.06l-1.78 0M657.58 420.06l0.6 0l7.14 11.3M657.58 420.06l0 12.49M663.53 420.06l1.79 0M665.32 431.36l0-11.3M665.32 431.36l0 1.19l-7.14-11.3M655.8 432.55l1.78 0M657.58 432.55l1.79 0M665.32 420.06l1.78 0M674.31 432.55l0-12.49l-0.59 0.59M674.31 432.55l-0.59 0M674.31 432.55l2.38 0M671.34 422.44l1.19-0.6l1.19-1.19M673.72 432.55l0-11.9M673.72 432.55l-2.38 0M686.35 428.98l0-7.73M686.35 428.98l-5.95 0l6.54-8.92l0 8.92M686.35 428.98l0.59 0M686.35 428.98l0 3.57M684.56 432.55l1.79 0M688.73 432.55l-1.79 0M686.94 428.98l2.98 0M686.94 428.98l0 3.57M686.35 432.55l0.59 0M697.79 420.06l0 0.59M695.41 432.55l-1.19-0.6l-1.19-1.78l-0.6-2.98l0-1.78l0.6-2.97l1.19-1.79l1.19-0.59M697.79 432.55l1.19-0.6l1.19-1.78l0.59-2.98l0-1.78l-0.59-2.97l-1.19-1.79l-1.19-0.59M695.41 432.55l-0.6-0.6l-0.59-0.59l-0.6-1.19l-0.59-2.98l0-1.78l0.59-2.97l0.6-1.19l0.59-0.6l0.6-0.59M697.79 420.06l0 0.59M695.41 432.55l0.59 0l1.19 0l0.6 0M695.41 420.06l0.59 0l1.19 0l0.6 0M697.79 432.55l0.59-0.6l0.6-0.59l0.59-1.19l0.6-2.98l0-1.78l-0.6-2.97l-0.59-1.19l-0.6-0.6l-0.59 0M709.23 428.98l0-7.73M709.23 428.98l-5.95 0l6.55-8.92l0 8.92M709.23 428.98l0.6 0M709.23 428.98l0 3.57M707.45 432.55l1.78 0M711.61 432.55l-1.78 0M709.83 428.98l2.97 0M709.83 428.98l0 3.57M709.23 432.55l0.6 0" stroke="#000" stroke-width="1.75"/>
<path d="M697.58 445.75l-1.78 0M697.58 445.75l0.6 0l7.14 11.31M697.58 445.75l0 12.5M703.53 445.75l1.79 0M705.32 457.06l0-11.31M705.32 457.06l0 1.19l-7.14-11.31M695.8 458.25l1.78 0M697.58 458.25l1.79 0M705.32 445.75l1.78 0M715.29 454.68l0-7.74M715.29 454.68l-5.95 0l6.55-8.93l0 8.93M715.29 454.68l0.6 0M715.29 454.68l0 3.57M713.51 458.25l1.78 0M717.67 458.25l-1.78 0M715.89 454.68l2.97 0M715.89 454.68l0 3.57M715.29 458.25l0.6 0M725.88 445.75l-0.59 0M725.88 445.75l1.79 0l1.19 0.6l0.59 1.19l0 0.59l-0.59 0.6l-0.6-0.6l0.6-0.59M725.88 445.75l-0.59 0M724.69 458.25l-1.19-0.6l-1.19-1.19l-0.59-1.78l0-3.57l0.59-2.38l0.6-1.19l1.19-1.19l1.19-0.6M725.29 445.75l-0.6 0.6l-1.19 1.19l-0.59 1.19l-0.6 2.38l0 2.97M727.07 458.25l1.19-0.6l1.19-1.19l0.6-1.78l0-0.6l-0.6-1.78l-1.19-1.19l-1.19-0.6M727.07 451.11l0-0.6M727.07 451.11l0-0.6M727.07 451.11l0.6 0l1.19 1.19l0.59 1.78l0 0.6l-0.59 1.78l-1.19 1.19l-0.6 0.6M724.69 458.25l0.6 0l1.19 0l0.59 0M722.31 454.08l0.6-1.78l1.19-1.19l1.78-0.6l0.6 0l0.59 0M722.31 454.08l0 0.6l0.6 1.78l1.19 1.19l0.59 0.6M738.85 454.68l0-7.74M738.85 454.68l-5.95 0l6.54-8.93l0 8.93M738.85 454.68l0.59 0M738.85 454.68l0 3.57M737.06 458.25l1.79 0M741.23 458.25l-1.79 0M739.44 454.68l2.98 0M739.44 454.68l0 3.57M738.85 458.25l0.59 0M753 449.92l0-0.6l-0.59-1.78l-1.19-1.19l-0.6 0M753 449.92l-0.59 1.78l-1.19 1.19l-1.78 0.6l-1.19 0M753 449.92l0 2.97l-0.59 2.38l-0.59 1.19l-1.2 1.19l-0.59 0.6M750.62 445.75l0 0.6M748.25 453.49l-0.6-0.6l-1.19-1.19l-0.59-1.78l0-0.6l0.59-1.78l1.19-1.19l0.6-0.6M746.46 456.46l0.6-0.59l-0.6-0.6l-0.59 0.6l0 0.59l0.59 1.19l1.19 0.6l1.79 0l0.59 0M748.25 445.75l-1.19 0.6l-1.19 1.19l-0.6 1.78l0 0.6l0.6 1.78l1.19 1.19l1.19 0.6M750.62 445.75l1.2 0.6l1.18 1.19l0.6 1.78l0 3.57l-0.6 2.38l-0.59 1.19l-1.19 1.19l-1.19 0.6M750.62 445.75l0 0.6M748.25 445.75l0.59 0l1.19 0l0.59 0" stroke="#000" stroke-width="1.75"/>
<path d="M768.58 444.56l-1.78 0M768.58 444.56l0.6 0l7.14 11.3M768.58 444.56l0 12.49M774.53 444.56l1.79 0M776.32 455.86l0-11.3M776.32 455.86l0 1.19l-7.14-11.3M766.8 457.05l1.78 0M768.58 457.05l1.79 0M776.32 444.56l1.78 0M785.81 457.05l0-12.49l-0.6 0.59M785.81 457.05l-0.6 0M785.81 457.05l2.38 0M782.83 446.94l1.19-0.6l1.19-1.19M785.21 457.05l0-11.9M785.21 457.05l-2.38 0M796.49 449.91l1.79 0M793.52 446.94l0.59 0.59l-0.59 0.59l-0.6-0.59l0-0.59l0.6-1.19l0.59-0.6l1.79-0.59l2.38 0l0.59 0M793.52 454.67l0.59-0.6l-0.59-0.59l-0.6 0.59l0 0.6l0.6 1.19l0.59 0.59l1.79 0.6l2.38 0l0.59 0M798.87 457.05l0.6-0.6l0.59-0.59l0.6-1.19l0-1.79l-0.6-1.78M798.87 445.15l0-0.59M798.87 445.15l0-0.59M798.87 445.15l0.6 0l0.59 1.19l0 1.78l-0.59 1.19l-0.6 0.6M800.06 451.1l-0.59-0.6l-1.19-0.59M800.06 451.1l0.6 0.59l0.59 1.19l0 1.79l-0.59 1.19l-0.6 0.59l-1.19 0.6M798.28 449.91l0.59 0M798.87 449.91l1.19-0.6l0.6-1.19l0-1.78l-0.6-1.19l-1.19-0.59M812.53 448.72l0-0.6l-0.59-1.78l-1.19-1.19l-0.6 0M812.53 448.72l-0.59 1.78l-1.19 1.19l-1.79 0.6l-1.19 0M812.53 448.72l0 2.97l-0.59 2.38l-0.6 1.19l-1.19 1.19l-0.59 0.6M810.15 444.56l0 0.59M807.77 452.29l-0.59-0.6l-1.19-1.19l-0.6-1.78l0-0.6l0.6-1.78l1.19-1.19l0.59-0.59M805.99 455.26l0.59-0.59l-0.59-0.6l-0.6 0.6l0 0.59l0.6 1.19l1.19 0.6l1.78 0l0.6 0M807.77 444.56l-1.19 0.59l-1.19 1.19l-0.59 1.78l0 0.6l0.59 1.78l1.19 1.19l1.19 0.6M810.15 444.56l1.19 0.59l1.19 1.19l0.6 1.78l0 3.57l-0.6 2.38l-0.59 1.19l-1.19 1.19l-1.19 0.6M810.15 444.56l0 0.59M807.77 444.56l0.6 0l1.19 0l0.59 0M824.4 448.72l0-0.6l-0.59-1.78l-1.19-1.19l-0.6 0M824.4 448.72l-0.59 1.78l-1.19 1.19l-1.78 0.6l-1.2 0M824.4 448.72l0 2.97l-0.59 2.38l-0.59 1.19l-1.2 1.19l-0.59 0.6M822.02 444.56l0 0.59M819.64 452.29l-0.59-0.6l-1.19-1.19l-0.6-1.78l0-0.6l0.6-1.78l1.19-1.19l0.59-0.59M817.86 455.26l0.6-0.59l-0.6-0.6l-0.6 0.6l0 0.59l0.6 1.19l1.19 0.6l1.79 0l0.59 0M819.64 444.56l-1.18 0.59l-1.2 1.19l-0.59 1.78l0 0.6l0.59 1.78l1.2 1.19l1.18 0.6M822.02 444.56l1.2 0.59l1.18 1.19l0.6 1.78l0 3.57l-0.6 2.38l-0.59 1.19l-1.19 1.19l-1.19 0.6M822.02 444.56l0 0.59M819.64 444.56l0.6 0l1.19 0l0.59 0" stroke="#000" stroke-width="1.75"/>
<path d="M24.9 281.6l0-3.51M24.9 278.09l-24.57 0M24.9 278.09l0-1.17M0.33 273.41l0 3.51M24.9 266.39l0-3.51M24.9 262.88l-12.87 0M24.9 262.88l0-1.17M24.9 276.92l-12.87 0M24.9 276.92l0-3.51M0.33 258.2l0 3.51M12.03 276.92l-11.7 0M12.03 276.92l0-14.04M24.9 261.71l-24.57 0M24.9 261.71l0-3.51M0.33 281.6l0-3.51M0.33 266.39l0-3.51M12.03 262.88l-11.7 0M0.33 278.09l0-1.17M0.33 262.88l0-1.17" stroke="#000" stroke-width="2"/>
<path d="M33.91 252.9l-1.3-0.22l-1.86-0.31l-2.09-0.35l-2.01-0.33l-1.88-0.3l-1.92-0.28l-1.89-0.3l-1.79-0.33l-1.66-0.34l-1.57-0.36l-1.53-0.39l-1.56-0.44l-1.65-0.53l-1.7-0.57l-1.62-0.61l-1.47-0.61l-1.29-0.6l-1.17-0.59l-1.02-0.61l-0.84-0.62l-0.65-0.61l-0.47-0.62l-0.31-0.63l-0.21-0.67l-0.08-0.71l0.03-0.78l0.15-0.76l0.25-0.72l0.34-0.69l0.45-0.69l0.53-0.63l0.55-0.52l0.57-0.4l0.62-0.31l0.67-0.2l0.71-0.07l0.8 0.06l0.88 0.18l0.85 0.31l0.75 0.43l0.63 0.54l0.55 0.63l0.47 0.8l0.34 1l0.19 1.44l0.05 1.77l-0.01 1.68l0 1.16M10.74 240.7l0.23-0.69l0.3-1l0.42-1.03l0.57-0.8l0.75-0.54l0.89-0.4l1.01-0.26l1.1-0.13l1.24 0.01l1.38 0.17l1.39 0.28l1.25 0.42l1.14 0.59l1.07 0.73l0.94 0.82l0.71 0.83l0.47 0.84l0.27 0.89l0.11 0.9l-0.03 0.89l-0.15 0.89l-0.29 0.89l-0.42 0.86l-0.54 0.77l-0.76 0.71l-0.97 0.66l-0.92 0.55l-0.63 0.39" stroke="#000" stroke-width="2.6"/>
<path d="M478.05 576.79l-1.19 0M478.05 576.79l3.56 0M478.05 576.79l0 24.91M456.7 601.7l3.56 0M460.26 601.7l0-24.91M460.26 601.7l3.56 0M460.26 576.79l8.3 24.91l8.3-24.91M473.3 601.7l3.56 0M476.86 601.7l0-24.91M476.86 601.7l1.19 0M478.05 601.7l3.56 0M456.7 576.79l3.56 0M468.56 598.14l-7.12-21.35l-1.18 0M491.56 595.77l2.37 1.19l2.37 0l2.37-1.19M491.56 595.77l-1.19-2.37l0-4.75l1.19-2.37M503.42 605.26l-1.19-1.19l-3.56-1.18l-5.93 0l-2.37-1.19M491.56 601.7l-1.19 0M503.42 605.26l-1.19-2.37l-3.56-1.19l-5.93 0l-3.56-1.19l-1.18-1.18M490.37 601.7l-1.19 0l-1.18-2.37M490.37 601.7l-2.37 1.19l-1.19 2.37l0 1.18l1.19 2.38l3.56 1.18l7.11 0l3.56-1.18l1.19-2.38l0-1.18M498.67 586.28l-2.37-1.18l-2.37 0l-2.37 1.18M498.67 595.77l1.19-2.37l0-4.75l-1.19-2.37M491.56 586.28l-1.19 1.19l-1.19 2.37l0 2.37l1.19 2.37M498.67 586.28l1.19 1.19M490.37 594.58l-1.19 1.19l-1.18 2.37l0 1.19M490.37 594.58l1.19 1.19M499.86 587.47l1.18 2.37l0 2.37l-1.18 2.37l-1.19 1.19M499.86 587.47l1.18-1.19M501.04 586.28l2.38-1.18l0 1.18l-2.38 0M513.25 576.79l3.56 0M514.44 600.51l-1.19-3.55l0-4.75l1.19-3.56M514.44 600.51l-1.19-1.18l-1.18-3.56l0-3.56l4.74-15.42M514.44 600.51l2.37 1.19l2.37 0l1.19 0M516.81 576.79l1.19 0l-3.56 11.86M520.37 601.7l1.19-1.19l2.37-3.55l1.18-3.56l0-4.75l-1.18-2.37M523.93 586.28l1.18 1.19l1.19 2.37l0 3.56l-1.19 3.56l-2.37 3.55l-2.37 1.19M523.93 586.28l-2.37-1.18l-2.38 0l-2.37 1.18l-2.37 2.37" stroke="#000" stroke-width="2"/>
<path d="M263.83 181.43l0.21-0.58l0.93-0.99l0.72-0.4l1.25-0.22l2.07 0.74l0.83 0.95l0.31 0.77l0.11 1.35l-0.42 1.17l-0.93 0.99l-1.66 1.38l-7.25 4.01l7.26 2.57M291.01 191.06l-0.11-1.36l-0.62-1.53l-0.83-0.95l-2.07-0.74l-1.25 0.22l-1.45 0.8l-0.93 0.99l-1.14 1.57l-1.03 2.92l-0.11 1.94l0.11 1.35l0.62 1.53l0.83 0.96l2.07 0.73l1.25-0.22l1.45-0.8l0.93-0.98l0.62-1.76l-2.59-0.92M294.13 202.69l-1.86 1.97l-1.45 0.8l-1.25 0.22l-0.52-0.19M294.13 202.69l-0.21-9.29M294.13 202.69l6.01-7.08M302.57 200.41l1.24-3.5M302.57 200.41l1.14-1.57l1.45-0.8l1.24-0.22l1.56 0.55M302.57 200.41l-1.66 4.68" stroke="#00f" stroke-width="1.75"/>
<path d="M325.88 275.09l5.92 1.26l-4.26 4.17l1.62 0.34l0.94 0.83l0.41 0.73l0.15 1.93l-0.25 1.21l-0.93 1.71l-1.33 0.98l-1.75 0.26l-1.61-0.34l-1.49-0.95l-0.4-0.72l-0.28-1.33M352.76 283.97l-0.28-1.32l-0.82-1.44l-0.95-0.84l-2.15-0.46l-1.2 0.38l-1.34 0.99l-0.79 1.09l-0.93 1.71l-0.64 3.03l0.15 1.93l0.28 1.33l0.82 1.44l0.94 0.84l2.15 0.46l1.21-0.38l1.33-0.99l0.8-1.09l0.39-1.82l-2.69-0.58M357.29 295.08l-1.59 2.2l-1.34 0.98l-1.2 0.38l-0.54-0.12M357.29 295.08l-1.43-9.18M357.29 295.08l5.03-7.8M365.29 291.71l0.77-3.64M365.29 291.71l0.92-1.71l1.34-0.98l1.2-0.38l1.62 0.35M365.29 291.71l-1.03 4.85" stroke="#00f" stroke-width="1.75"/>
<path d="M428.86 341.17l-5.44-0.86l-1.41 5.43l0.64-0.53l1.72-0.35l1.63 0.26l1.54 0.87l0.89 1.39l0.25 1.93l-0.19 1.22l-0.84 1.75l-1.28 1.05l-1.72 0.36l-1.63-0.26l-1.54-0.87l-0.44-0.7l-0.35-1.31M450.87 347.8l-0.35-1.31l-0.89-1.4l-0.99-0.78l-2.17-0.35l-1.19 0.44l-1.28 1.06l-0.73 1.13l-0.84 1.75l-0.48 3.07l0.25 1.92l0.35 1.31l0.89 1.4l0.99 0.78l2.17 0.35l1.19-0.44l1.28-1.06l0.73-1.14l0.3-1.83l-2.72-0.43M456.06 358.66l-1.47 2.28l-1.28 1.05l-1.19 0.44l-0.54-0.08M456.06 358.66l-1.9-9.09M456.06 358.66l4.62-8.05M463.94 354.89l0.58-3.67M463.94 354.89l0.84-1.75l1.28-1.05l1.18-0.44l1.63 0.25M463.94 354.89l-0.77 4.9" stroke="#00f" stroke-width="1.75"/>
<path d="M492.83 410.15l3.24-12.71l-2.1 1.6l-1.25 0.47M501.66 404.4l0.15-0.6l1.32-2.96l1.55-1.67l1.79-0.4l1.1 0.14l1.48 0.82l0.63 1.95l-0.23 3.1l-0.46 1.81l-1.32 2.96l-1.55 1.68l-1.79 0.39l-1.1-0.14l-1.48-0.81l-0.63-1.96l0.23-3.09l0.31-1.22M531.31 405.08l-0.24-1.28l-0.78-1.35l-0.94-0.75l-2.18-0.28l-1.25 0.47l-1.4 1.07l-0.85 1.14l-1.01 1.75l-0.77 3.02l0.08 1.89l0.24 1.28l0.78 1.35l0.94 0.74l2.18 0.28l1.25-0.46l1.4-1.07l0.85-1.14l0.46-1.82l-2.72-0.35M535.46 415.61l-1.71 2.28l-1.4 1.07l-1.25 0.47l-0.54-0.07M535.46 415.61l-1.12-8.89M535.46 415.61l5.43-8.05M543.71 411.67l0.92-3.64M543.71 411.67l1-1.75l1.4-1.07l1.25-0.47l1.64 0.21M543.71 411.67l-1.24 4.84" stroke="#00f" stroke-width="1.75"/>
<path d="M489.21 445.25l3.73-12.57l-2.16 1.52l-1.26 0.42M499.64 436.94l0.18-0.6l0.9-1.1l0.72-0.51l1.26-0.42l2.17 0.36l0.91 0.78l0.36 0.69l0.19 1.29l-0.35 1.2l-0.9 1.11l-1.62 1.61l-7.2 5.08l7.6 1.27M527.74 441.64l-0.19-1.29l-0.73-1.37l-0.91-0.79l-2.16-0.36l-1.27 0.42l-1.44 1.02l-0.89 1.1l-1.08 1.71l-0.89 2.99l0.01 1.89l0.19 1.29l0.73 1.38l0.91 0.78l2.17 0.36l1.26-0.42l1.44-1.01l0.9-1.11l0.53-1.8l-2.71-0.45M531.44 452.32l-1.8 2.21l-1.44 1.02l-1.26 0.42l-0.54-0.09M531.44 452.32l-0.77-8.93M531.44 452.32l5.73-7.84M539.8 448.69l1.06-3.59M539.8 448.69l1.07-1.71l1.44-1.01l1.26-0.42l1.63 0.27M539.8 448.69l-1.42 4.79" stroke="#00f" stroke-width="1.75"/>
<path d="M222.53 247.86l-2.56-9.56M220.22 258.72l11.36-3.04l-2.05-1.16l-0.82-0.92M223.63 267.1l-0.69-0.39l-0.39 0.68l0.68 0.38l0.4-0.67M229.8 270.65l0.54-0.14l2.85-0.19l1.9 0.62l0.97 1.45l0.29 1.06l-0.12 1.74l-1.34 1.5l-2.56 1.26l-1.62 0.43l-2.85 0.19l-1.91-0.62l-0.96-1.45l-0.29-1.06l0.12-1.74l1.33-1.5l2.57-1.26l1.08-0.29" stroke="#f00" stroke-width="1.75"/>
<path d="M275.37 233.33l-2.73-9.52M277.97 238.3l0.53-0.15l2.85-0.24l1.92 0.59l0.99 1.43l0.3 1.06l-0.08 1.74l-1.31 1.52l-2.54 1.3l-1.62 0.46l-2.84 0.25l-1.92-0.6l-0.99-1.43l-0.31-1.06l0.09-1.74l1.31-1.52l2.54-1.3l1.08-0.31M276.81 252.54l-0.69-0.37l-0.39 0.68l0.69 0.38l0.39-0.69M290.24 260.79l-1.52-5.28l-4.99 0.86l0.69 0.37l0.99 1.43l0.46 1.59l-0.09 1.74l-0.77 1.37l-1.46 0.99l-1.08 0.31l-1.77-0.07l-1.38-0.75l-0.99-1.43l-0.46-1.59l0.09-1.74l0.38-0.68l0.93-0.84" stroke="#f00" stroke-width="1.75"/>
<path d="M461.87 305.57l0.44-0.39l2.6-1.53l2.11-0.38l1.61 0.78l0.78 0.78l0.72 1.55l-0.55 1.94l-1.82 2.31l-1.33 1.15l-2.6 1.54l-2.11 0.37l-1.61-0.78l-0.78-0.78l-0.72-1.55l0.55-1.93l1.82-2.31l0.89-0.77M466.16 317.3l-0.83 0l-0.06 0.77l0.83 0.01l0.06-0.78M473.11 316.81l0.44-0.38l2.61-1.54l2.1-0.37l1.61 0.78l0.78 0.77l0.72 1.56l-0.55 1.93l-1.82 2.31l-1.33 1.16l-2.6 1.53l-2.11 0.38l-1.61-0.79l-0.77-0.77l-0.73-1.56l0.55-1.93l1.83-2.31l0.88-0.77" stroke="#f00" stroke-width="1.75"/>
<path d="M403.93 199.11l-2.72-2.92l13.69-12.76l2.72 2.91M423.89 196.5l-5.05-5.42l-4.28 3.99M414.56 195.07l3.11 3.34M414.56 195.07l-4.71 4.39M422.68 210.64l-1.63-0.03l-1.21-0.44l-1.17-1.25l-0.34-1.23l0.07-1.63l0.9-1.62l0.85-0.79M420.15 203.65l1.68-0.78l1.63 0.03l1.2 0.44l1.17 1.25l0.35 1.23l-0.04 0.82l-0.47 1.21l-0.85 0.8l-4.67-5M441.3 211.74l-20.68 5.27M447.7 222.03l-4.28 3.99M443.42 226.02l-5.44-5.83M443.42 226.02l-4.71 4.39M442.25 216.2l-4.27 3.99M437.98 220.19l-4.71 4.38M438.77 236.48l2.72 2.91l13.69-12.76l-2.72-2.92M457.37 245.27l-7-7.5M452.94 235.37l7 7.51M462.62 246.61l0.43-0.4l2.53-1.57l2.06-0.37l1.59 0.85l0.78 0.84l0.74 1.65l-0.51 2.03l-1.75 2.41l-1.28 1.2l-2.53 1.57l-2.06 0.37l-1.6-0.85l-0.77-0.84l-0.74-1.65l0.5-2.03l1.75-2.41l0.86-0.8M467.62 259.7l-0.81-0.02l-0.04 0.81l0.81 0.02l0.04-0.81M483.68 260.61l-3.89-4.16l-4.24 3.17l0.82 0.02l1.59 0.85l1.17 1.25l0.73 1.65l-0.07 1.63l-0.9 1.61l-0.85 0.8l-1.68 0.78l-1.63-0.03l-1.59-0.85l-1.17-1.26l-0.74-1.64l0.04-0.82l0.47-1.22" stroke="#f00" stroke-width="1.75"/>
</g>
</svg>
</body></html>
